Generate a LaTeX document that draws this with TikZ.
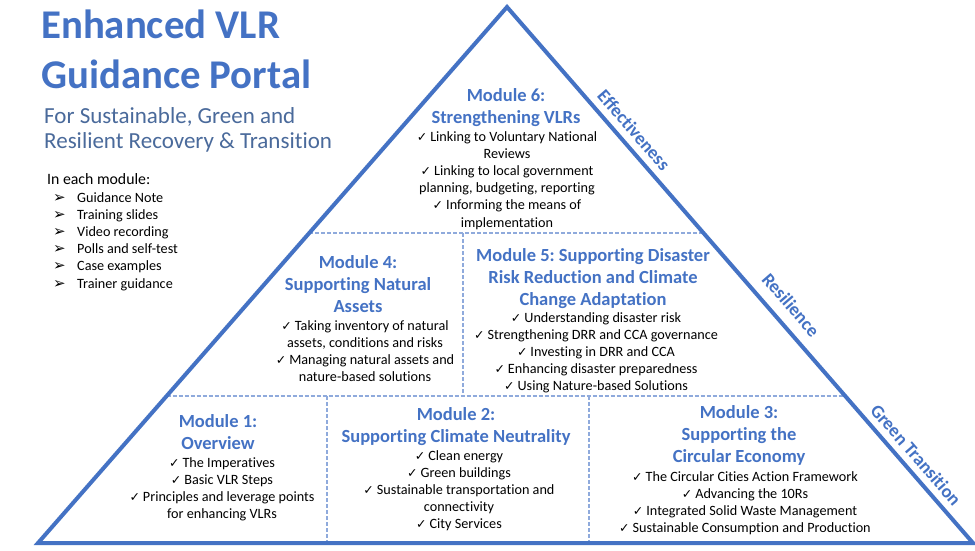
\documentclass[tikz,border=0pt]{standalone}
\usepackage{fontspec}
\setmainfont{Carlito}[Ligatures=NoCommon]
\newfontfamily\dv{DejaVu Sans}
\usetikzlibrary{calc}
\definecolor{vblue}{HTML}{4472C4}
\definecolor{dashc}{HTML}{8FAADC}
\definecolor{subc}{HTML}{4A6A9B}
\newcommand\chk{{\dv\fontsize{12.5}{12.5}\selectfont ✓}\hspace{3pt}}
\newcommand\bul{\makebox[24pt][l]{\dv\fontsize{15}{15}\selectfont ➢}}
\tikzset{
  edge/.style={draw=vblue, line width=4pt, line join=miter},
  divider/.style={draw=dashc, line width=1.2pt, dash pattern=on 4pt off 2pt},
  modtitle/.style={anchor=base, align=center, inner sep=0pt, text=vblue,
    font=\frenchspacing\bfseries\fontsize{18.5}{22}\selectfont},
  modbody/.style={anchor=base, align=center, inner sep=0pt, text=black,
    font=\frenchspacing\fontsize{14.2}{17.2}\selectfont},
  sidelabel/.style={anchor=center, inner sep=0pt, text=vblue, rotate=-49,
    font=\bfseries\fontsize{18.5}{22}\selectfont},
}
\begin{document}
\begin{tikzpicture}[x=1pt, y=-1pt]
\useasboundingbox[fill=white] (0,0) rectangle (975,550);
% triangle
\coordinate (A) at (38,543);
\coordinate (B) at (507,7);
\coordinate (C) at (973,543);
\coordinate (L1) at ($(A)!0.5784!(B)$);
\coordinate (R1) at ($(C)!0.5784!(B)$);
\coordinate (L2) at ($(A)!0.2743!(B)$);
\coordinate (R2) at ($(C)!0.2743!(B)$);
\coordinate (V1t) at (463,233);
\coordinate (V1b) at (463,396);
\coordinate (V2t) at (327,396);
\coordinate (V2b) at (327,543);
\coordinate (V3t) at (589,396);
\coordinate (V3b) at (589,543);
\draw[divider] (L1) -- (R1);
\draw[divider] (L2) -- (R2);
\draw[divider] (V1t) -- (V1b);
\draw[divider] (V2t) -- (V2b);
\draw[divider] (V3t) -- (V3b);
\draw[edge] (A) -- (B) -- (C) -- cycle;

% left header (anchor = baseline of the last line)
\node[anchor=base west, align=left, inner sep=0pt, text=vblue,
  font=\bfseries\fontsize{40.8}{50}\selectfont] (title) at (41,88)
  {Enhanced VLR\\Guidance Portal};
\node[anchor=base west, align=left, inner sep=0pt, text=subc,
  font=\fontsize{23}{25}\selectfont] (subtitle) at (44,148)
  {For Sustainable, Green and\\Resilient Recovery \& Transition};
\node[anchor=base west, inner sep=0pt, font=\fontsize{15.8}{17.2}\selectfont]
  (each) at (47,184) {In each module:};
\node[anchor=base west, align=left, inner sep=0pt,
  font=\fontsize{14.2}{17.2}\selectfont] (list) at (53,288)
  {\bul Guidance Note\\\bul Training slides\\\bul Video recording\\
   \bul Polls and self-test\\\bul Case examples\\\bul Trainer guidance};

% module 6
\node[modtitle] (m6t) at (506,123) {Module 6:\\Strengthening VLRs};
\node[modbody] (m6b) at (507,227)
  {\chk Linking to Voluntary National\\Reviews\\
   \chk Linking to local government\\planning, budgeting, reporting\\
   \chk Informing the means of\\implementation};

% module 4
\node[modtitle] (m4t) at (358,312) {Module 4:\\Supporting Natural\\Assets};
\node[modbody] (m4b) at (365,381.6)
  {\chk Taking inventory of natural\\assets, conditions and risks\\
   \chk Managing natural assets and\\nature-based solutions};

% module 5
\node[modtitle] (m5t) at (593,305)
  {Module 5: Supporting Disaster\\Risk Reduction and Climate\\Change Adaptation};
\node[modbody] (m5b) at (596,390.8)
  {\chk Understanding disaster risk\\
   \chk Strengthening DRR and CCA governance\\
   \chk Investing in DRR and CCA\\
   \chk Enhancing disaster preparedness\\
   \chk Using Nature-based Solutions};

% module 1
\node[modtitle] (m1t) at (218,449) {Module 1:\\Overview};
\node[modbody] (m1b) at (222,518.6)
  {\chk The Imperatives\\\chk Basic VLR Steps\\
   \chk Principles and leverage points\\for enhancing VLRs};

% module 2
\node[modtitle] (m2t) at (456,442) {Module 2:\\Supporting Climate Neutrality};
\node[modbody] (m2b) at (459,528.8)
  {\chk Clean energy\\\chk Green buildings\\
   \chk Sustainable transportation and\\connectivity\\\chk City Services};

% module 3
\node[modtitle] (m3t) at (739,462) {Module 3:\\Supporting the\\Circular Economy};
\node[modbody] (m3b) at (745,532.6)
  {\chk The Circular Cities Action Framework\\
   \chk Advancing the 10Rs\\
   \chk Integrated Solid Waste Management\\
   \chk Sustainable Consumption and Production};

% side labels
\node[sidelabel] (eff) at (634,130) {Effectiveness};
\node[sidelabel] (res) at (791,305) {Resilience};
\node[sidelabel] (green) at (916,455) {Green Transition};
\end{tikzpicture}
\end{document}
